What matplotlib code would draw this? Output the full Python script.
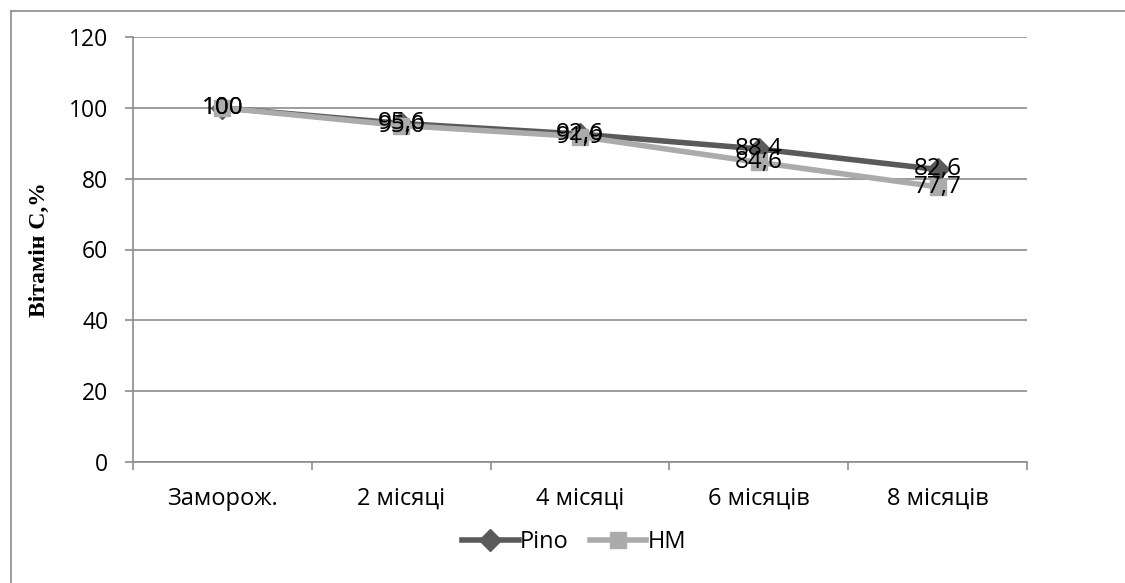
import matplotlib.pyplot as plt
from matplotlib.lines import Line2D

# vitamin C retention during frozen storage, % of initial
categories = ["Заморож.", "2 місяці", "4 місяці", "6 місяців", "8 місяців"]
pino = [100, 95.6, 92.6, 88.4, 82.6]
hm = [100, 95.0, 91.9, 84.6, 77.7]
y_ticks = [0, 20, 40, 60, 80, 100, 120]

DARK = "#5a5a5a"
LIGHT = "#ababab"
GRID = "#8c8c8c"

plt.rcParams["font.family"] = ["Open Sans", "DejaVu Sans"]


def fmt(v):
    # initial point is shown whole, the rest with one decimal and a comma
    s = f"{v:.0f}" if v >= 100 else f"{v:.1f}"
    return s.replace(".", ",")


fig = plt.figure(figsize=(11.25, 5.83), dpi=100)
ax = fig.add_axes([133 / 1125, 1 - 462 / 583, (1027 - 133) / 1125, (462 - 37) / 583])

# outer chart border (only top and left show)
fig.add_artist(Line2D([11 / 1125, 11 / 1125], [0, 1 - 11 / 583],
                      transform=fig.transFigure, color=GRID, lw=1.2))
fig.add_artist(Line2D([11 / 1125, 1], [1 - 11 / 583, 1 - 11 / 583],
                      transform=fig.transFigure, color=GRID, lw=1.2))

x = list(range(len(categories)))
ax.plot(x, pino, color=DARK, lw=4, marker="D", ms=11, zorder=3, label="Pino",
        solid_capstyle="round")
ax.plot(x, hm, color=LIGHT, lw=4, marker="s", ms=11, zorder=4, label="НМ",
        solid_capstyle="round")

for xi, v in zip(x, pino):
    ax.text(xi, v, fmt(v), ha="center", va="center", fontsize=17.5, zorder=5)
for xi, v in zip(x, hm):
    ax.text(xi, v, fmt(v), ha="center", va="center", fontsize=17.5, zorder=5)

ax.set_xlim(-0.5, len(categories) - 0.5)
ax.set_ylim(0, 120)
ax.set_yticks(y_ticks)
ax.set_xticks(x)
ax.set_xticklabels(categories)
ax.set_xticks([i - 0.5 for i in range(len(categories) + 1)], minor=True)
ax.tick_params(axis="x", which="major", length=0, pad=18, labelsize=17)
ax.tick_params(axis="x", which="minor", length=6, color=GRID, width=1.2)
ax.tick_params(axis="y", length=5.8, color=GRID, width=1.2, pad=12, labelsize=16.5)
ax.grid(axis="y", color=GRID, lw=1.2)
ax.set_axisbelow(True)
for side in ["top", "right"]:
    ax.spines[side].set_visible(False)
for side in ["left", "bottom"]:
    ax.spines[side].set_color(GRID)
    ax.spines[side].set_linewidth(1.2)

ax.set_ylabel("Вітамін С,%", family="Liberation Serif", fontweight="bold",
              fontsize=17, labelpad=14)

handles = [
    Line2D([], [], color=DARK, lw=4, marker="D", ms=11),
    Line2D([], [], color=LIGHT, lw=4, marker="s", ms=11),
]
fig.legend(handles, ["Pino", "НМ"], loc="center", bbox_to_anchor=(574 / 1125, 1 - 542 / 583),
           ncol=2, frameon=False, fontsize=17, handlelength=2.4, handletextpad=0.05,
           columnspacing=0.9)

fig.savefig("out.png", dpi=100)
